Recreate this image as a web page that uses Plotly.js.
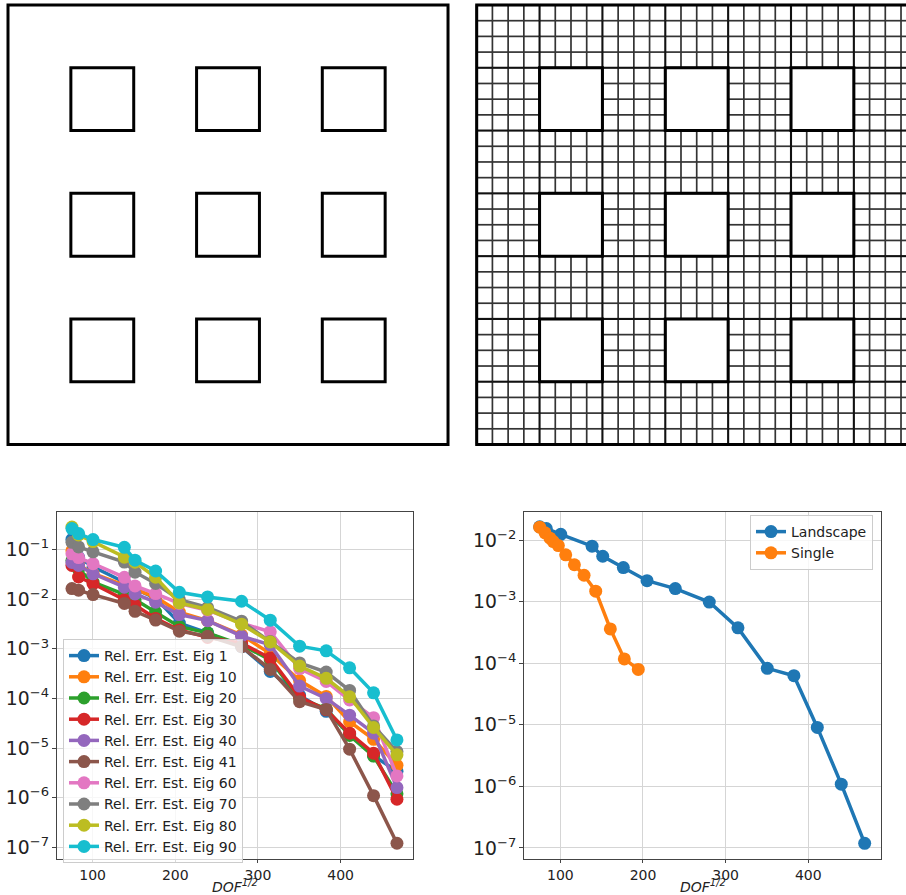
<!DOCTYPE html>
<html>
<head>
<meta charset="utf-8">
<script src="https://cdn.plot.ly/plotly-3.0.1.min.js"></script>
<style>
html,body{margin:0;padding:0;background:#fff;}
#plot{width:906px;height:895px;}
</style>
</head>
<body>
<div id="plot"></div>
<script>
// ---------- geometry of the domain (top panels) ----------
const domainSize = 7;
const holeStarts = [1, 3, 5];
const holeSize = 1;
const meshSubdiv = 4;

// ---------- left convergence plot ----------
const dofSqrt = [75, 83, 100.5, 138.4, 151.3, 176.2, 204.9, 239.1, 280.2, 314.9, 350.4, 382.6, 410.9, 439.9, 468.2];
const eigLabels = ['Rel. Err. Est. Eig 1','Rel. Err. Est. Eig 10','Rel. Err. Est. Eig 20','Rel. Err. Est. Eig 30','Rel. Err. Est. Eig 40','Rel. Err. Est. Eig 41','Rel. Err. Est. Eig 60','Rel. Err. Est. Eig 70','Rel. Err. Est. Eig 80','Rel. Err. Est. Eig 90'];
const eig1  = [0.16, 0.07, 0.045, 0.022, 0.016, 0.0105, 0.0033, 0.0021, 0.0011, 0.00035, 0.000115, 5.5e-5, 1.9e-5, 7e-6, 3.4e-6];
const eig10 = [0.095, 0.05, 0.033, 0.019, 0.0155, 0.011, 0.0055, 0.0037, 0.0019, 0.0008, 0.00023, 0.00011, 3.4e-5, 1.5e-5, 4.5e-6];
const eig20 = [0.06, 0.04, 0.022, 0.0125, 0.0098, 0.0055, 0.0028, 0.0021, 0.0012, 0.0006, 0.0001, 6.2e-5, 1.8e-5, 6.9e-6, 1.2e-6];
const eig30 = [0.048, 0.028, 0.0205, 0.0097, 0.0076, 0.0041, 0.0024, 0.0017, 0.0013, 0.00065, 0.000107, 5.9e-5, 2.0e-5, 7.9e-6, 9.3e-7];
const eig40 = [0.055, 0.048, 0.0325, 0.0175, 0.0128, 0.0087, 0.0049, 0.0037, 0.0018, 0.0012, 0.000178, 0.0001, 4.6e-5, 2.0e-5, 1.6e-6];
const eig41 = [0.0164, 0.0152, 0.0124, 0.0082, 0.0057, 0.0038, 0.00227, 0.0018, 0.0011, 0.000385, 8.6e-5, 6.0e-5, 9.5e-6, 1.1e-6, 1.21e-7];
const eig60 = [0.082, 0.069, 0.052, 0.0276, 0.0185, 0.013, 0.0082, 0.006, 0.0033, 0.0022, 0.0004, 0.00022, 9.3e-5, 4.1e-5, 2.75e-6];
const eig70 = [0.14, 0.113, 0.09, 0.056, 0.035, 0.0207, 0.0098, 0.0068, 0.0036, 0.0014, 0.00052, 0.00034, 0.000145, 2.8e-5, 8.5e-6];
const eig80 = [0.285, 0.197, 0.145, 0.070, 0.0555, 0.0277, 0.0084, 0.0062, 0.00314, 0.00138, 0.000449, 0.000254, 0.000108, 2.6e-5, 7.3e-6];
const eig90 = [0.265, 0.21, 0.159, 0.111, 0.061, 0.037, 0.0138, 0.0111, 0.0091, 0.00378, 0.00113, 0.00091, 0.000415, 0.00013, 1.46e-5];
const eigSeries = [eig1, eig10, eig20, eig30, eig40, eig41, eig60, eig70, eig80, eig90];
const colors = ['#1f77b4','#ff7f0e','#2ca02c','#d62728','#9467bd','#8c564b','#e377c2','#7f7f7f','#bcbd22','#17becf'];

// ---------- right comparison plot ----------
const landscapeX = [75, 83, 100.5, 138.4, 151.3, 176.2, 204.9, 239.1, 280.2, 314.9, 350.4, 382.6, 410.9, 439.9, 468.2];
const landscapeY = [0.0165, 0.0155, 0.0125, 0.0080, 0.0055, 0.0036, 0.0022, 0.00164, 0.00099, 0.000377, 8.3e-5, 6.3e-5, 9.1e-6, 1.09e-6, 1.19e-7];
const singleX = [75, 81.5, 87.5, 91.5, 97.6, 106.5, 117, 128.7, 142.8, 160.5, 177.4, 194.3];
const singleY = [0.0163, 0.0132, 0.0108, 0.0095, 0.0082, 0.0058, 0.0040, 0.0027, 0.00149, 0.000363, 0.000118, 7.96e-5];

const xTickVals = [100, 200, 300, 400];
const xTickText = ['100', '200', '300', '400'];
const xTitle = '<i>DOF<sup><span style="font-size:10px">1/2</span></sup></i>';

const W = 906, H = 895;
const FONT = 'DejaVu Sans, sans-serif';

const traces = [];

eigSeries.forEach((s, i) => {
  traces.push({
    x: dofSqrt, y: s, type: 'scatter', mode: 'lines+markers', name: eigLabels[i],
    xaxis: 'x', yaxis: 'y', legend: 'legend',
    line: {color: colors[i], width: 3.5},
    marker: {color: colors[i], size: 13}
  });
});
traces.push({x: landscapeX, y: landscapeY, type: 'scatter', mode: 'lines+markers', name: 'Landscape',
  xaxis: 'x2', yaxis: 'y2', legend: 'legend2', line: {color: colors[0], width: 3.5}, marker: {color: colors[0], size: 13}});
traces.push({x: singleX, y: singleY, type: 'scatter', mode: 'lines+markers', name: 'Single',
  xaxis: 'x2', yaxis: 'y2', legend: 'legend2', line: {color: colors[1], width: 3.5}, marker: {color: colors[1], size: 13}});

// ---------- build mesh lines ----------
function inHole(cx, cy) {
  const hx = holeStarts.some(h => cx > h && cx < h + holeSize);
  const hy = holeStarts.some(h => cy > h && cy < h + holeSize);
  return hx && hy;
}
const n = domainSize * meshSubdiv;
const hThin = {x: [], y: []}, hThick = {x: [], y: []};
function cellExists(i, j) {
  if (i < 0 || j < 0 || i >= n || j >= n) return false;
  return !inHole((i + 0.5) / meshSubdiv, (j + 0.5) / meshSubdiv);
}
for (let j = 0; j <= n; j++) {
  const yv = j / meshSubdiv;
  const target = (j % meshSubdiv === 0) ? hThick : hThin;
  for (let i = 0; i < n; i++) {
    if (cellExists(i, j - 1) || cellExists(i, j)) {
      target.x.push(i / meshSubdiv, (i + 1) / meshSubdiv, null);
      target.y.push(yv, yv, null);
    }
  }
}
for (let i = 0; i <= n; i++) {
  const xv = i / meshSubdiv;
  const target = (i % meshSubdiv === 0) ? hThick : hThin;
  for (let j = 0; j < n; j++) {
    if (cellExists(i - 1, j) || cellExists(i, j)) {
      target.x.push(xv, xv, null);
      target.y.push(j / meshSubdiv, (j + 1) / meshSubdiv, null);
    }
  }
}
traces.push({x: hThin.x, y: hThin.y, type: 'scatter', mode: 'lines', xaxis: 'x4', yaxis: 'y4',
  showlegend: false, hoverinfo: 'skip', line: {color: '#333', width: 1.7}});
traces.push({x: hThick.x, y: hThick.y, type: 'scatter', mode: 'lines', xaxis: 'x4', yaxis: 'y4',
  showlegend: false, hoverinfo: 'skip', line: {color: '#111', width: 2.1}});

// ---------- geometry shapes ----------
const shapes = [];
shapes.push({type: 'rect', xref: 'x3', yref: 'y3', x0: 0, x1: domainSize, y0: 0, y1: domainSize,
  line: {color: '#000', width: 3}});
holeStarts.forEach(hx => holeStarts.forEach(hy => {
  shapes.push({type: 'rect', xref: 'x3', yref: 'y3', x0: hx, x1: hx + holeSize, y0: hy, y1: hy + holeSize,
    line: {color: '#000', width: 3}});
  shapes.push({type: 'rect', xref: 'x4', yref: 'y4', x0: hx, x1: hx + holeSize, y0: hy, y1: hy + holeSize,
    line: {color: '#000', width: 3}});
}));
shapes.push({type: 'rect', xref: 'x4', yref: 'y4', x0: 0, x1: domainSize, y0: 0, y1: domainSize,
  line: {color: '#000', width: 3}});

// ---------- layout ----------
const px = v => v / W;
const py = v => 1 - v / H;
const topYDomain = [py(452), 1];
const topYRange = [-(452 - 444.5) / 62.8, domainSize + 5 / 62.8];

const logAxisCommon = {
  type: 'log', showgrid: true, gridcolor: '#d5d5d5', gridwidth: 1,
  showline: true, linecolor: '#444', linewidth: 1, mirror: true,
  ticks: 'outside', ticklen: 4, tickcolor: '#444', dtick: 1,
  exponentformat: 'power', tickfont: {family: FONT, size: 15, color: '#222'}, zeroline: false
};
const linAxisCommon = {
  showgrid: true, gridcolor: '#d5d5d5', gridwidth: 1,
  showline: true, linecolor: '#444', linewidth: 1, mirror: true,
  ticks: 'outside', ticklen: 3, tickcolor: '#444',
  tickvals: xTickVals, ticktext: xTickText,
  tickfont: {family: FONT, size: 14, color: '#222'}, zeroline: false
};
const hiddenAxis = {visible: false, showgrid: false, zeroline: false, fixedrange: true};

const annotations = [
  {text: xTitle, xref: 'paper', yref: 'paper', x: px(235), y: py(896), xanchor: 'center', yanchor: 'bottom',
    showarrow: false, borderpad: 0, font: {family: FONT, size: 14, color: '#222'}},
  {text: xTitle, xref: 'paper', yref: 'paper', x: px(702.5), y: py(896), xanchor: 'center', yanchor: 'bottom',
    showarrow: false, borderpad: 0, font: {family: FONT, size: 14, color: '#222'}}
];

const layout = {
  width: W, height: H,
  margin: {l: 0, r: 0, t: 0, b: 0},
  paper_bgcolor: '#fff', plot_bgcolor: '#fff',
  font: {family: FONT, size: 14, color: '#222'},
  showlegend: true,
  xaxis: Object.assign({}, linAxisCommon, {domain: [px(57), px(413)], range: [56.9, 487.6], anchor: 'y'}),
  yaxis: Object.assign({}, logAxisCommon, {domain: [py(859), py(512)], range: [-7.235, -0.243], anchor: 'x'}),
  xaxis2: Object.assign({}, linAxisCommon, {domain: [px(524.3), px(880.7)], range: [56.4, 487.6], anchor: 'y2'}),
  yaxis2: Object.assign({}, logAxisCommon, {domain: [py(859), py(512)], range: [-7.179, -1.541], anchor: 'x2'}),
  xaxis3: Object.assign({}, hiddenAxis, {domain: [0, px(460)], range: [-8 / 62.86, (460 - 8) / 62.86], anchor: 'y3'}),
  yaxis3: Object.assign({}, hiddenAxis, {domain: topYDomain, range: topYRange, anchor: 'x3'}),
  xaxis4: Object.assign({}, hiddenAxis, {domain: [px(470), 1], range: [(470 - 476.7) / 62.86, (906 - 476.7) / 62.86], anchor: 'y4'}),
  yaxis4: Object.assign({}, hiddenAxis, {domain: topYDomain, range: topYRange, anchor: 'x4'}),
  legend: {x: px(63), y: py(639), xanchor: 'left', yanchor: 'top',
    bgcolor: 'rgba(255,255,255,0.8)', bordercolor: '#ccc', borderwidth: 1,
    font: {family: FONT, size: 14, color: '#222'}, itemwidth: 30, tracegroupgap: 0},
  legend2: {x: px(873), y: py(515), xanchor: 'right', yanchor: 'top',
    bgcolor: 'rgba(255,255,255,0.8)', bordercolor: '#ccc', borderwidth: 1,
    font: {family: FONT, size: 14, color: '#222'}, itemwidth: 30},
  annotations: annotations,
  shapes: shapes
};

Plotly.newPlot('plot', traces, layout, {displayModeBar: false, staticPlot: true});
</script>
</body>
</html>
